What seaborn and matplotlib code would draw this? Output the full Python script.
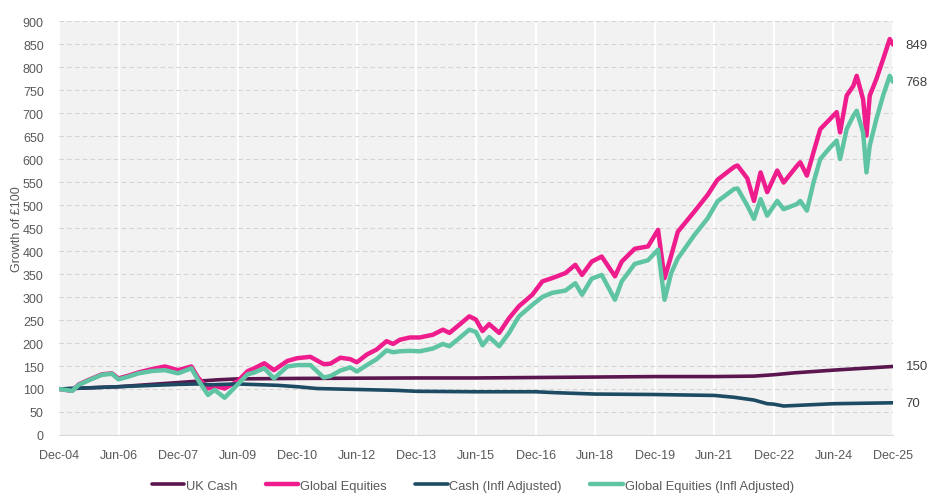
import numpy as np
import pandas as pd
import seaborn as sns
import matplotlib.pyplot as plt
import matplotlib.dates as mdates

# equities (nominal and inflation adjusted)
eq_dates = ['2004-12', '2005-04', '2005-06', '2005-09', '2006-01', '2006-04', '2006-06', '2006-09',
            '2006-12', '2007-04', '2007-08', '2007-12', '2008-04', '2008-06', '2008-09', '2008-11',
            '2009-02', '2009-06', '2009-09', '2009-11', '2010-02', '2010-05', '2010-09', '2010-12',
            '2011-04', '2011-08', '2011-10', '2012-01', '2012-04', '2012-06', '2012-09', '2012-12',
            '2013-03', '2013-05', '2013-07', '2013-10', '2014-01', '2014-05', '2014-08', '2014-10',
            '2015-01', '2015-04', '2015-06', '2015-08', '2015-10', '2016-01', '2016-04', '2016-07',
            '2016-11', '2017-02', '2017-05', '2017-09', '2017-12', '2018-02', '2018-05', '2018-08',
            '2018-12', '2019-02', '2019-06', '2019-10', '2020-01', '2020-03', '2020-05', '2020-07',
            '2020-12', '2021-04', '2021-07', '2021-12', '2022-01', '2022-04', '2022-06', '2022-08',
            '2022-10', '2023-01', '2023-03', '2023-07', '2023-08', '2023-10', '2023-12', '2024-02',
            '2024-05', '2024-07', '2024-08', '2024-10', '2024-12', '2025-01', '2025-03', '2025-04',
            '2025-05', '2025-07', '2025-09', '2025-11', '2025-12']
global_eq = [100, 96, 110, 120, 132, 134, 123, 129,
             136, 143, 149, 141, 149, 125, 101, 107,
             101, 117, 139, 145, 156, 141, 161, 167,
             170, 154, 155, 168, 165, 158, 175, 186,
             204, 198, 207, 212, 212, 218, 229, 222,
             240, 258, 251, 226, 241, 222, 254, 280,
             305, 334, 341, 352, 370, 348, 377, 388,
             345, 377, 405, 410, 446, 341, 390, 442,
             486, 522, 555, 583, 586, 558, 509, 571,
             528, 575, 549, 585, 593, 564, 615, 665,
             687, 702, 658, 738, 759, 781, 730, 651,
             738, 774, 817, 861, 849]
global_eq_real = [100, 96, 109, 119, 131, 133, 121, 127,
                  134, 139, 141, 134, 145, 120, 87, 98,
                  81, 110, 132, 136, 145, 123, 149, 152,
                  152, 125, 128, 140, 147, 138, 152, 165,
                  184, 180, 182, 183, 182, 188, 198, 193,
                  211, 229, 224, 195, 213, 193, 222, 258,
                  283, 300, 309, 314, 330, 305, 340, 348,
                  294, 334, 372, 380, 403, 294, 352, 384,
                  435, 471, 508, 535, 536, 499, 470, 513,
                  477, 509, 491, 502, 509, 488, 549, 600,
                  625, 640, 600, 665, 694, 705, 658, 571,
                  629, 687, 738, 781, 768]

# cash series
cash_dates = ['2004-12', '2006-06', '2007-12', '2008-12', '2009-06', '2010-12', '2013-12', '2015-06',
              '2018-06', '2019-12', '2021-06', '2022-06', '2022-12', '2023-06', '2024-06', '2025-12']
uk_cash = [100, 105, 114, 120, 122, 123, 124, 124, 126, 127, 127, 128, 131, 135, 141, 149]

real_dates = ['2004-12', '2006-06', '2007-12', '2008-06', '2008-09', '2009-06', '2010-06', '2010-12',
              '2011-06', '2012-06', '2013-06', '2013-12', '2015-06', '2016-12', '2017-06', '2018-06',
              '2019-12', '2021-06', '2021-12', '2022-06', '2022-10', '2022-12', '2023-03', '2023-06',
              '2024-06', '2025-12']
cash_real = [100, 105, 110, 111, 109, 111, 108, 105, 101, 99, 97, 95, 94, 94, 92, 89,
             88, 86, 82, 76, 68, 67, 63, 64, 68, 70]

end_labels = ['849', '768', '150', '70']

colors = {'UK Cash': '#5B1650', 'Global Equities': '#EE1C8C',
          'Cash (Infl Adjusted)': '#1D4B63', 'Global Equities (Infl Adjusted)': '#5EC4A4'}

df_eq = pd.DataFrame({'date': pd.to_datetime(eq_dates), 'Global Equities': global_eq,
                      'Global Equities (Infl Adjusted)': global_eq_real})
df_cash = pd.DataFrame({'date': pd.to_datetime(cash_dates), 'UK Cash': uk_cash})
df_real = pd.DataFrame({'date': pd.to_datetime(real_dates), 'Cash (Infl Adjusted)': cash_real})

sns.set_style('white', {'axes.facecolor': '#F2F2F2'})
plt.rcParams['font.family'] = ['Liberation Sans', 'DejaVu Sans']

fig = plt.figure(figsize=(9.4, 5.02), dpi=100)
ax = fig.add_axes([0.0628, 0.1315, 0.8872, 0.8245])

sns.lineplot(data=df_cash, x='date', y='UK Cash', color=colors['UK Cash'], lw=2.6, ax=ax, label='UK Cash')
sns.lineplot(data=df_eq, x='date', y='Global Equities', color=colors['Global Equities'], lw=3.2,
             ax=ax, label='Global Equities')
sns.lineplot(data=df_real, x='date', y='Cash (Infl Adjusted)', color=colors['Cash (Infl Adjusted)'],
             lw=2.6, ax=ax, label='Cash (Infl Adjusted)')
sns.lineplot(data=df_eq, x='date', y='Global Equities (Infl Adjusted)',
             color=colors['Global Equities (Infl Adjusted)'], lw=3.2, ax=ax,
             label='Global Equities (Infl Adjusted)')

# end labels
ends = [(df_eq['date'].iloc[-1], global_eq[-1]), (df_eq['date'].iloc[-1], global_eq_real[-1]),
        (df_cash['date'].iloc[-1], uk_cash[-1]), (df_real['date'].iloc[-1], cash_real[-1])]
for (d, v), txt in zip(ends, end_labels):
    ax.annotate(txt, xy=(d, v), xytext=(9, 0), textcoords='offset points', va='center', ha='left',
                fontsize=9.5, color='#404040', annotation_clip=False)

ticks = pd.date_range('2004-12-01', '2025-12-01', freq='18MS')
ax.set_xticks(ticks)
ax.xaxis.set_major_formatter(mdates.DateFormatter('%b-%y'))
ax.set_xlim(ticks[0], ticks[-1])
ax.set_ylim(0, 900)
ax.set_yticks(np.arange(0, 901, 50))

ax.xaxis.grid(True, color='white', lw=1.6)
ax.yaxis.grid(True, color='#D4D4D4', ls=(0, (4, 3)), lw=0.8)
ax.set_axisbelow(True)
for s in ['top', 'right', 'left']:
    ax.spines[s].set_visible(False)
ax.spines['bottom'].set_color('#D9D9D9')
ax.tick_params(axis='x', colors='#595959', labelsize=9, length=4, color='#D9D9D9', pad=6)
ax.tick_params(axis='y', colors='#595959', labelsize=9, length=0, pad=11)
ax.set_xlabel('')
ax.set_ylabel('Growth of £100', fontsize=9, color='#595959', labelpad=0)

ax.get_legend().remove()
h, l = ax.get_legend_handles_labels()
fig.legend(h, l, loc='lower center', bbox_to_anchor=(0.503, -0.005), ncol=4, frameon=False,
           fontsize=9.3, handlelength=2.5, columnspacing=2.2, handletextpad=0.15,
           labelcolor='#595959')

fig.savefig('out.png', dpi=100)
